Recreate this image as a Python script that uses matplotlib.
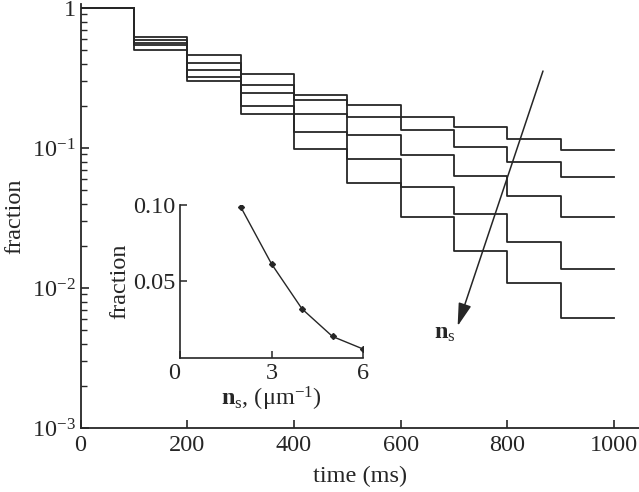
import matplotlib
matplotlib.use("Agg")
import matplotlib.pyplot as plt
import numpy as np
from matplotlib.ticker import FixedLocator, LogLocator, NullFormatter

plt.rcParams['font.family'] = ['Liberation Serif', 'DejaVu Serif']
plt.rcParams['mathtext.fontset'] = 'custom'
plt.rcParams['mathtext.rm'] = 'Liberation Serif'
plt.rcParams['mathtext.it'] = 'Liberation Serif:italic'
plt.rcParams['mathtext.bf'] = 'Liberation Serif:bold'

# step times (ms); value holds until next time, last one ends at 1000
times = [0, 100, 200, 300, 400, 500, 600, 700, 800, 900, 1000]

# survival fraction per interval, one curve per n_s
frac_ns2 = [1, 0.621, 0.459, 0.336, 0.239, 0.202, 0.166, 0.141, 0.117, 0.0973]
frac_ns3 = [1, 0.591, 0.403, 0.282, 0.221, 0.167, 0.134, 0.101, 0.0798, 0.0621]
frac_ns4 = [1, 0.565, 0.362, 0.246, 0.174, 0.123, 0.0887, 0.0634, 0.0452, 0.0323]
frac_ns5 = [1, 0.541, 0.320, 0.2005, 0.130, 0.0831, 0.0529, 0.0336, 0.0213, 0.0136]
frac_ns6 = [1, 0.501, 0.301, 0.174, 0.0984, 0.056, 0.0323, 0.0185, 0.0108, 0.00614]
curves = [frac_ns2, frac_ns3, frac_ns4, frac_ns5, frac_ns6]

# inset: final fraction vs n_s
ns_values = [2, 3, 4, 5, 6]
final_frac = [0.0985, 0.0615, 0.032, 0.0139, 0.0057]

color = '#262626'
fs = 17.5

fig = plt.figure(figsize=(6.39, 4.92), dpi=100)
ax = fig.add_axes([0.126, 0.13, 0.874, 0.862])

for c in curves:
    ax.step(times, list(c) + [c[-1]], where='post', color=color, lw=1.3)

ax.set_yscale('log')
ax.set_xlim(0, 1047)
ax.set_ylim(1e-3, 1.07)
ax.xaxis.set_major_locator(FixedLocator([0, 200, 400, 600, 800, 1000]))
ax.yaxis.set_major_locator(FixedLocator([1e-3, 1e-2, 1e-1, 1]))
ax.set_yticklabels([r'10$^{-3}$', r'10$^{-2}$', r'10$^{-1}$', '1'])
ax.yaxis.set_minor_locator(LogLocator(base=10, subs=np.arange(2, 10)))
ax.yaxis.set_minor_formatter(NullFormatter())
for s in ['top', 'right']:
    ax.spines[s].set_visible(False)
for s in ['left', 'bottom']:
    ax.spines[s].set_color(color)
    ax.spines[s].set_linewidth(1.3)
ax.tick_params(which='major', direction='in', length=6, width=1.2, colors=color,
               labelsize=fs, labelcolor=color)
ax.tick_params(which='minor', direction='in', length=4, width=1.0, colors=color)
ax.tick_params(axis='x', pad=5)
ax.set_xlabel('time (ms)', fontsize=fs, color=color, labelpad=7)
ax.set_ylabel('fraction', fontsize=fs, color=color, labelpad=5)

# arrow indicating increasing n_s
ax.annotate('', xy=(707, 0.00535), xytext=(867, 0.355),
            arrowprops=dict(arrowstyle='-|>,head_length=0.7,head_width=0.2',
                            color=color, lw=1.1, mutation_scale=20,
                            shrinkA=0, shrinkB=0))
ax.text(683, 0.0047, r'$\mathbf{n}_{\mathrm{s}}$', fontsize=fs, color=color,
        ha='center', va='center')

# inset
axi = fig.add_axes([0.2817, 0.273, 0.2864, 0.310])
axi.plot(ns_values, final_frac, color=color, lw=1.0, marker='D', ms=3)
axi.set_xlim(0, 6)
axi.set_ylim(0, 0.10)
axi.set_xticks([0, 3, 6])
axi.set_yticks([0.05, 0.10])
axi.set_yticklabels(['0.05', '0.10'])
axi.set_xticklabels(['0', '3', '6'])
for s in ['top', 'right']:
    axi.spines[s].set_visible(False)
for s in ['left', 'bottom']:
    axi.spines[s].set_color(color)
    axi.spines[s].set_linewidth(1.2)
axi.tick_params(direction='in', length=5, width=1.1, colors=color,
                labelsize=fs, labelcolor=color)
axi.get_xticklabels()[0].set_horizontalalignment('right')
axi.set_xlabel(r'$\mathbf{n}_{\mathrm{s}}$, ($\mathrm{\mu m}^{-1}$)', fontsize=fs,
               color=color, labelpad=1)
axi.set_ylabel('fraction', fontsize=fs, color=color, labelpad=2)

fig.savefig('out.png', dpi=100)
plt.close(fig)
